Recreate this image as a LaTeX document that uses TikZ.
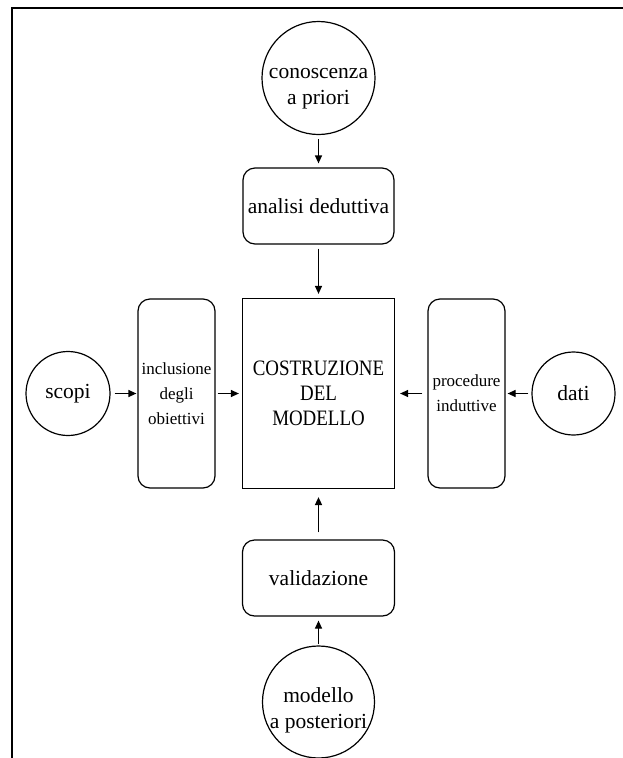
\documentclass[tikz,border=0pt]{standalone}
\usepackage{fontspec}
\setmainfont{Liberation Serif}
\newfontfamily\capsfont[FakeStretch=0.86]{Liberation Serif}
\usepackage{tikz}
\usetikzlibrary{arrows.meta}

\tikzset{
  blob/.style={draw,circle,inner sep=0pt,align=center,font=\fontsize{21.5}{26}\selectfont},
  roundbox/.style={draw,rounded corners=12pt,inner sep=0pt,align=center,font=\fontsize{21.5}{26}\selectfont},
  narrowbox/.style={roundbox,minimum width=77pt,minimum height=189pt,font=\fontsize{17}{25}\selectfont},
  mainbox/.style={draw,inner sep=0pt,align=center,font=\capsfont\fontsize{22}{25}\selectfont},
  arr/.style={-{Triangle[length=8pt,width=7pt]},shorten <=4pt,shorten >=4pt},
}
\newcommand{\giu}[1]{\raisebox{-13pt}[0pt][0pt]{\begin{tabular}{@{}c@{}}#1\end{tabular}}}

\begin{document}
\begin{tikzpicture}[x=1pt,y=-1pt,line width=1.2pt]
		\useasboundingbox (0,0) rectangle (623,758);
		\def\mx{318.5}
		\def\my{393.5}
		% cornice
		\draw (12,758) -- (12,8) -- (623,8);
%
		\node[mainbox,minimum width=152pt,minimum height=190pt] (modello) at (\mx,\my) {COSTRUZIONE\\DEL\\MODELLO};
		\node[blob,minimum size=113pt] (priori) at (\mx,78) {\giu{conoscenza\\a priori}};
		\node[roundbox,minimum width=151pt,minimum height=76pt] (dedu) at (\mx,206) {analisi deduttiva};
		\node[roundbox,minimum width=152pt,minimum height=76pt] (valid) at (\mx,578) {validazione};
		\node[blob,minimum size=112pt] (poster) at (\mx,702) {\giu{modello\\a posteriori}};
		\node[narrowbox] (obiet) at (176.5,\my) {inclusione\\degli\\obiettivi};
		\node[narrowbox] (indut) at (466.5,\my) {procedure\\induttive};
		\node[blob,minimum size=84pt] (scopi) at (68,\my) {scopi};
		\node[blob,minimum size=83pt] (dati) at (573.5,\my) {dati};
%
		\draw[arr] (priori) -- (dedu);
		\draw[arr] (dedu) -- (modello);
		\draw[arr,line width=1.6pt,shorten <=7pt,shorten >=8pt] (valid) -- (modello);
		\draw[arr,shorten <=1pt] (poster) -- (valid);
		\draw[arr,shorten >=1pt] (scopi) -- (obiet);
		\draw[arr,shorten <=2pt,shorten >=3pt] (obiet) -- (modello);
		\draw[arr,shorten <=5pt,shorten >=5pt] (indut) -- (modello);
		\draw[arr,shorten <=3pt,shorten >=2pt] (dati) -- (indut);
\end{tikzpicture}
\end{document}
